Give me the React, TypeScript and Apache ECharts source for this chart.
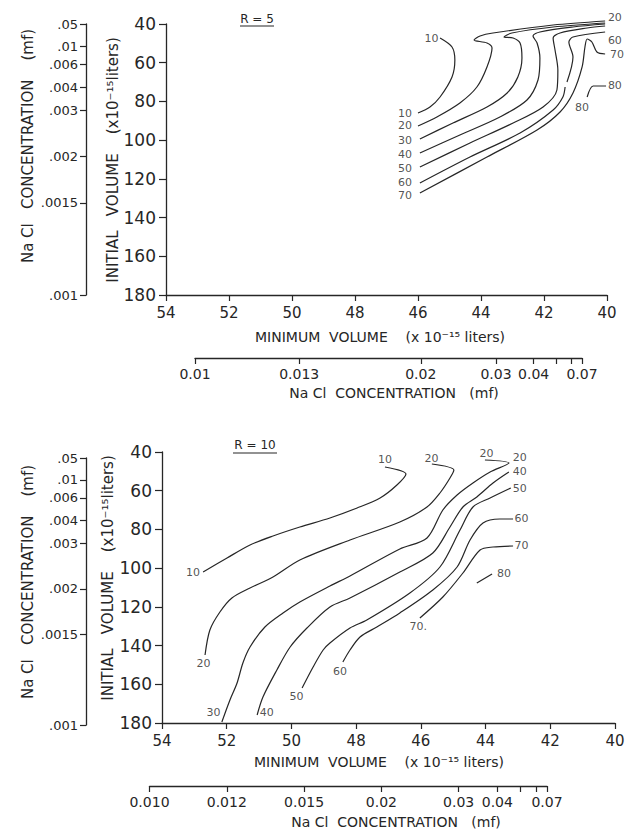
import React, { useEffect, useRef } from 'react';
import * as echarts from 'echarts';

type Pt = [number, number];
type Lbl = [string, number, number];

// ---- R = 5 : contours, [minimum volume, initial volume] (x 10^-15 liters) ----
const r5Curve10: Pt[] = [[45.30, 47.23], [44.92, 51.88], [44.83, 58.6], [44.92, 67.38], [45.30, 77.71], [45.62, 82.88], [46.0, 85.98]];
const r5Curve20: Pt[] = [[46.0, 92.69], [45.40, 88.04], [44.67, 80.81], [44.13, 72.55], [43.81, 62.2], [43.65, 52.4], [43.81, 49.82], [44.22, 48.27], [44.03, 46.2], [43.62, 44.65], [41.71, 40.52], [40.06, 38.45]];
const r5Curve30: Pt[] = [[45.94, 99.41], [44.89, 91.14], [43.81, 82.88], [43.17, 75.65], [42.83, 67.38], [42.70, 57.56], [42.76, 49.82], [42.98, 47.23], [43.27, 46.72], [43.02, 44.65], [41.71, 41.55], [40.06, 39.48]];
const r5Curve40: Pt[] = [[45.94, 106.64], [44.67, 97.34], [43.40, 88.04], [42.54, 79.26], [42.19, 68.93], [42.13, 57.56], [42.22, 49.82], [42.35, 46.2], [42.13, 44.13], [41.08, 41.55], [40.06, 40.0]];
const r5Curve50: Pt[] = [[45.94, 113.87], [44.35, 101.47], [42.98, 91.14], [42.03, 82.88], [41.59, 74.1], [41.56, 63.76], [41.65, 53.43], [41.71, 47.23], [41.49, 44.65], [40.63, 42.07], [40.06, 41.03]];
const r5Curve60a: Pt[] = [[45.94, 122.14], [44.35, 108.71], [42.76, 96.31], [41.71, 84.43], [41.40, 77.71], [41.33, 72.55]];
const r5Curve60b: Pt[] = [[41.27, 69.96], [41.08, 57.05], [41.21, 49.3], [41.08, 46.72], [40.06, 44.13]];
const r5Curve70: Pt[] = [[45.94, 127.31], [43.81, 108.71], [42.22, 94.76], [41.49, 85.46], [41.08, 75.65], [40.79, 62.2], [40.70, 51.88], [40.63, 47.75], [40.48, 49.3], [40.32, 54.46], [40.06, 55.5]];
const r5Curve80: Pt[] = [[40.63, 77.71], [40.44, 72.03], [40.03, 72.03]];

const r5Labels: Lbl[] = [
  ['10', 45.57, 47.4], ['10', 46.41, 85.98], ['20', 46.41, 92.69], ['30', 46.41, 99.93],
  ['40', 46.41, 107.2], ['50', 46.41, 114.4], ['60', 46.41, 121.8], ['70', 46.41, 128.6],
  ['20', 39.75, 36.9], ['60', 39.75, 48.3], ['70', 39.68, 55.5], ['80', 39.75, 72.0], ['80', 40.79, 82.9],
];

// ---- R = 10 ----
const r10Curve10: Pt[] = [[52.73, 101.99], [51.99, 94.76], [51.28, 88.04], [50.57, 83.39], [49.74, 78.75], [48.81, 74.10], [47.97, 68.93], [47.26, 63.76], [46.74, 57.05], [46.46, 51.37], [47.11, 47.75]];
const r10Curve20: Pt[] = [[52.67, 144.87], [52.52, 131.95], [52.21, 122.66], [51.84, 115.42], [51.28, 110.26], [50.57, 104.58], [49.74, 95.79], [48.19, 85.46], [46.65, 76.16], [45.81, 68.41], [45.41, 61.18], [45.10, 53.43], [44.98, 49.30], [45.66, 46.2]];
const r10Curve30: Pt[] = [[52.15, 179.48], [51.90, 168.12], [51.68, 159.33], [51.50, 149.0], [51.28, 140.74], [50.82, 130.41], [50.26, 123.17], [49.74, 117.49], [48.81, 109.22], [48.19, 104.06], [46.65, 90.11], [45.81, 84.43], [45.32, 69.96], [44.88, 62.21], [44.39, 56.01], [43.86, 50.33], [43.28, 45.68], [44.02, 44.13]];
const r10Curve40: Pt[] = [[51.06, 175.87], [50.88, 166.57], [50.45, 152.62], [50.04, 140.74], [49.52, 130.92], [48.81, 120.07], [48.19, 115.42], [46.65, 101.99], [45.63, 92.18], [45.10, 78.75], [44.70, 68.41], [44.27, 63.25], [43.77, 56.01], [43.28, 50.33]];
const r10Curve50: Pt[] = [[49.67, 161.92], [49.33, 151.07], [49.02, 142.29], [48.81, 138.67], [48.19, 130.92], [47.67, 126.79], [46.34, 112.84], [45.41, 99.41], [44.79, 80.29], [44.39, 68.41], [43.86, 63.76], [43.22, 58.60]];
const r10Curve60: Pt[] = [[48.41, 148.49], [48.19, 142.29], [47.88, 135.57], [47.36, 130.41], [46.65, 123.17], [45.63, 111.29], [44.88, 99.41], [44.48, 85.46], [44.08, 76.68], [43.56, 74.61], [43.15, 74.61]];
const r10Curve70: Pt[] = [[46.03, 125.76], [45.32, 114.91], [44.70, 102.51], [44.17, 90.63], [43.77, 89.08], [43.15, 88.56]];
const r10Curve80: Pt[] = [[44.27, 107.67], [43.80, 103.03]];

const r10Labels: Lbl[] = [
  ['10', 47.11, 44.1], ['10', 53.04, 102.5], ['20', 45.67, 43.3], ['20', 43.97, 40.7],
  ['20', 42.94, 42.7], ['40', 42.94, 50.2], ['50', 42.94, 58.8], ['60', 42.89, 74.6],
  ['70', 42.89, 88.4], ['80', 43.43, 103.0], ['20', 52.72, 149.2], ['30', 52.41, 174.7],
  ['40', 50.76, 174.7], ['50', 49.84, 166.4], ['60', 48.5, 153.5], ['70.', 46.08, 129.9],
];

// ---- NaCl concentration scales (mf), laid out linearly in 1/c ----
const leftConc = [0.05, 0.01, 0.006, 0.004, 0.003, 0.002, 0.0015, 0.001];
const leftConcText = ['.05', '.01', '.006', '.004', '.003', '.002', '.0015', '.001'];

const topConcTicks = [0.01, 0.013, 0.02, 0.03, 0.04, 0.05, 0.06, 0.07];
const topConcLabels = [0.01, 0.013, 0.02, 0.03, 0.04, 0.07];
const topConcText = ['0.01', '0.013', '0.02', '0.03', '0.04', '0.07'];

const bottomConcTicks = [0.01, 0.012, 0.015, 0.02, 0.03, 0.04, 0.05, 0.06, 0.07];
const bottomConcLabels = [0.01, 0.012, 0.015, 0.02, 0.03, 0.04, 0.07];
const bottomConcText = ['0.010', '0.012', '0.015', '0.02', '0.03', '0.04', '0.07'];

const FONT = '"DejaVu Sans", sans-serif';
const INK = '#262626';

const inv = (arr: number[]) => arr.map((c) => 1 / c);
const concFormatter = (concs: number[], texts: string[]) => (v: number) => {
  const i = concs.findIndex((c) => Math.abs(1 / c - v) < 1e-3);
  return i >= 0 ? texts[i] : '';
};

const axisLineStyle = { show: true, onZero: false, lineStyle: { color: INK, width: 1.3 } };

function mainX(gridIndex: number) {
  return {
    gridIndex, type: 'value', min: 40, max: 54, interval: 2, inverse: true, position: 'bottom',
    axisLine: axisLineStyle,
    axisTick: { show: true, length: 6, lineStyle: { color: INK, width: 1.2 } },
    axisLabel: { color: INK, fontSize: 15, fontFamily: FONT, margin: 10, showMinLabel: true, showMaxLabel: true },
    splitLine: { show: false },
  };
}

function mainY(gridIndex: number) {
  return {
    gridIndex, type: 'value', min: 40, max: 180, interval: 20, inverse: true, position: 'left',
    axisLine: axisLineStyle,
    axisTick: { show: true, length: 7, lineStyle: { color: INK, width: 1.2 } },
    axisLabel: { color: INK, fontSize: 17, fontFamily: FONT, margin: 10, showMinLabel: true, showMaxLabel: true },
    splitLine: { show: false },
  };
}

function concX(gridIndex: number, ticks: number[], labels: number[], texts: string[]) {
  return {
    gridIndex, type: 'value', min: 1 / ticks[ticks.length - 1], max: 1 / ticks[0], inverse: true, position: 'bottom',
    axisLine: axisLineStyle,
    axisTick: { show: true, length: 6, customValues: inv(ticks), lineStyle: { color: INK, width: 1.2 } },
    axisLabel: { color: INK, fontSize: 14, fontFamily: FONT, margin: 9, customValues: inv(labels), formatter: concFormatter(labels, texts) },
    splitLine: { show: false },
  };
}

function concY(gridIndex: number) {
  return {
    gridIndex, type: 'value', min: 1 / leftConc[0], max: 1 / leftConc[leftConc.length - 1], inverse: true, position: 'left',
    axisLine: axisLineStyle,
    axisTick: { show: true, length: 6, customValues: inv(leftConc), lineStyle: { color: INK, width: 1.2 } },
    axisLabel: { color: INK, fontSize: 13, fontFamily: FONT, margin: 8, customValues: inv(leftConc), formatter: concFormatter(leftConc, leftConcText) },
    splitLine: { show: false },
  };
}

const hidden = (gridIndex: number) => ({ gridIndex, type: 'value', show: false, min: 0, max: 1 });

function curve(data: Pt[], idx: number) {
  return {
    type: 'line', xAxisIndex: idx, yAxisIndex: idx, data, showSymbol: false, symbol: 'none',
    smooth: 0.3, clip: false, silent: true, lineStyle: { color: INK, width: 1.2 },
  };
}

function labelSeries(labels: Lbl[], idx: number, size: number) {
  return {
    type: 'scatter', xAxisIndex: idx, yAxisIndex: idx, clip: false, silent: true,
    symbolSize: 1, itemStyle: { color: 'rgba(0,0,0,0)' },
    data: labels.map(([t, x, y]) => ({ name: t, value: [x, y] })),
    label: {
      show: true, position: 'inside', formatter: '{b}', color: INK, fontSize: size, fontFamily: FONT,
      textBorderWidth: 0, textShadowBlur: 0,
    },
  };
}

function text(t: string, x: number, y: number, size: number, vertical = false) {
  return {
    type: 'text', x, y, rotation: vertical ? Math.PI / 2 : 0, silent: true,
    style: { text: t, x: 0, y: 0, align: 'center', verticalAlign: 'middle', textAlign: 'center', textVerticalAlign: 'middle', font: `${size}px ${FONT}`, fill: INK },
  };
}

function underline(x1: number, x2: number, y: number) {
  return { type: 'line', silent: true, shape: { x1, y1: y, x2, y2: y }, style: { stroke: INK, lineWidth: 1.2 } };
}

export default function App() {
  const ref = useRef<HTMLDivElement>(null);

  useEffect(() => {
    if (!ref.current) return;
    const chart = echarts.init(ref.current, undefined, { renderer: 'svg' });
    const option: any = {
      animation: false,
      backgroundColor: '#ffffff',
      grid: [
        { left: 166, top: 24, width: 441, height: 271, outerBoundsMode: 'none' },
        { left: 162, top: 452, width: 453, height: 271, outerBoundsMode: 'none' },
        { left: 195, top: 357, width: 387, height: 1, outerBoundsMode: 'none' },
        { left: 149.5, top: 785, width: 397.5, height: 1, outerBoundsMode: 'none' },
        { left: 86, top: 24, width: 1, height: 271, outerBoundsMode: 'none' },
        { left: 86, top: 458, width: 1, height: 267, outerBoundsMode: 'none' },
      ],
      xAxis: [
        mainX(0), mainX(1),
        concX(2, topConcTicks, topConcLabels, topConcText),
        concX(3, bottomConcTicks, bottomConcLabels, bottomConcText),
        hidden(4), hidden(5),
      ],
      yAxis: [
        mainY(0), mainY(1), hidden(2), hidden(3), concY(4), concY(5),
      ],
      series: [
        curve(r5Curve10, 0), curve(r5Curve20, 0), curve(r5Curve30, 0), curve(r5Curve40, 0),
        curve(r5Curve50, 0), curve(r5Curve60a, 0), curve(r5Curve60b, 0), curve(r5Curve70, 0), curve(r5Curve80, 0),
        labelSeries(r5Labels, 0, 11),
        curve(r10Curve10, 1), curve(r10Curve20, 1), curve(r10Curve30, 1), curve(r10Curve40, 1),
        curve(r10Curve50, 1), curve(r10Curve60, 1), curve(r10Curve70, 1), curve(r10Curve80, 1),
        labelSeries(r10Labels, 1, 11),
      ],
      graphic: [
        text('R = 5', 257, 19, 12), underline(240, 274, 26),
        text('MINIMUM  VOLUME    (x 10⁻¹⁵ liters)', 380, 337, 14),
        text('Na Cl  CONCENTRATION   (mf)', 394, 393, 14),
        text('INITIAL   VOLUME    (x10⁻¹⁵liters)', 113, 160, 15, true),
        text('Na Cl   CONCENTRATION    (mf)', 28, 146, 15, true),
        text('R = 10', 255, 445, 12), underline(233, 277, 453),
        text('MINIMUM  VOLUME    (x 10⁻¹⁵ liters)', 379, 762, 14),
        text('Na Cl  CONCENTRATION   (mf)', 396, 822, 14),
        text('INITIAL   VOLUME    (x10⁻¹⁵liters)', 108, 578, 15, true),
        text('Na Cl   CONCENTRATION    (mf)', 28, 582, 15, true),
      ],
    };
    chart.setOption(option);
    return () => chart.dispose();
  }, []);

  return (
    <div
      ref={ref}
      style={{ position: 'fixed', left: 0, top: 0, width: 637, height: 835, background: '#fff' }}
    />
  );
}
